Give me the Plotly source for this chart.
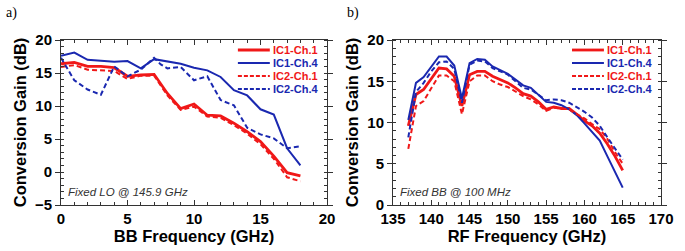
import plotly.graph_objects as go

RED = "#f01818"
BLUE = "#1a28b0"

# ---- Panel a) : Fixed LO @ 145.9 GHz ----
bb_freq = [0, 1, 2, 3, 4, 5, 6, 7, 8, 9, 10, 11, 12, 13, 14, 15, 16, 17, 18]
a_ic1_ch1 = [16.4, 16.6, 16.0, 16.0, 15.8, 14.5, 14.7, 14.8, 11.9, 9.6, 10.3, 8.6, 8.5, 7.4, 6.1, 4.6, 2.4, -0.1, -0.6]
a_ic1_ch4 = [17.6, 18.1, 17.0, 16.9, 16.7, 16.8, 15.7, 17.1, 16.8, 16.4, 15.8, 15.4, 14.4, 12.4, 11.6, 9.5, 8.7, 3.6, 1.0]
a_ic2_ch1 = [15.9, 16.2, 15.5, 15.4, 15.3, 14.1, 14.6, 14.6, 11.6, 9.4, 9.9, 8.4, 8.2, 7.1, 5.8, 4.2, 2.0, -0.8, -1.4]
bb_freq_ic2_ch4 = [0, 1, 2, 3, 4, 5, 6, 7, 7.5, 8, 9, 10, 11, 12, 13, 14, 15, 16, 17, 18]
a_ic2_ch4 = [17.3, 13.9, 12.5, 11.7, 16.0, 14.5, 15.5, 17.3, 16.3, 15.7, 15.9, 13.9, 14.5, 10.9, 10.1, 6.7, 5.7, 5.1, 3.6, 3.9]

# ---- Panel b) : Fixed BB @ 100 MHz ----
rf_freq = list(range(137, 166))
b_ic1_ch1 = [9.6, 13.4, 14.0, 15.3, 16.6, 16.5, 15.6, 12.0, 15.8, 16.2, 16.2, 15.6, 15.2, 14.8, 14.2,
             13.5, 13.2, 12.5, 11.6, 11.9, 11.7, 11.7, 11.0, 10.2, 9.6, 8.7, 7.4, 5.9, 4.2]
b_ic1_ch4 = [10.3, 14.8, 15.5, 16.7, 18.0, 18.0, 16.9, 12.9, 17.2, 17.7, 17.6, 16.8, 16.3, 15.9, 15.2,
             14.5, 14.2, 13.4, 12.5, 12.4, 12.1, 11.6, 10.9, 9.9, 8.9, 7.8, 5.9, 4.0, 2.1]
b_ic2_ch1 = [6.8, 12.0, 12.6, 14.2, 15.7, 15.7, 15.0, 11.0, 15.0, 15.7, 15.7, 15.0, 14.6, 14.3, 13.7,
             13.2, 12.8, 12.2, 11.4, 11.8, 11.7, 11.6, 11.0, 10.5, 9.8, 9.2, 8.0, 6.4, 5.0]
b_ic2_ch4 = [8.2, 13.7, 14.8, 16.2, 17.3, 17.4, 16.5, 12.4, 17.0, 17.5, 17.4, 16.6, 16.2, 15.8, 15.0,
             14.2, 14.0, 13.3, 12.7, 12.8, 12.7, 12.4, 11.9, 11.3, 10.6, 9.6, 8.2, 6.8, 5.5]

names = ["IC1-Ch.1", "IC1-Ch.4", "IC2-Ch.1", "IC2-Ch.4"]
colors = [RED, BLUE, RED, BLUE]
dashes = ["solid", "solid", "5px,3px", "5px,3px"]
widths = [2.8, 2.0, 2.0, 2.0]

fig = go.Figure()

a_x = [bb_freq, bb_freq, bb_freq, bb_freq_ic2_ch4]
a_y = [a_ic1_ch1, a_ic1_ch4, a_ic2_ch1, a_ic2_ch4]
for i in range(4):
    fig.add_trace(go.Scatter(
        x=a_x[i], y=a_y[i], mode="lines", name=names[i], showlegend=False,
        line=dict(color=colors[i], width=widths[i], dash=dashes[i]),
        xaxis="x", yaxis="y"))

b_y = [b_ic1_ch1, b_ic1_ch4, b_ic2_ch1, b_ic2_ch4]
for i in range(4):
    fig.add_trace(go.Scatter(
        x=rf_freq, y=b_y[i], mode="lines", name=names[i], showlegend=False,
        line=dict(color=colors[i], width=widths[i], dash=dashes[i]),
        xaxis="x2", yaxis="y2"))

FONT = "Liberation Sans, Arial, sans-serif"
tickfont = dict(family=FONT, size=15, color="black", weight="bold")
titlefont = dict(family=FONT, size=16.5, color="black", weight="bold")

def axis(domain, rng, title, anchor, standoff, major_dir):
    return dict(
        domain=domain, range=rng, dtick=5, anchor=anchor, automargin=False,
        showgrid=False, zeroline=False, showline=True, linecolor="#333", linewidth=1,
        mirror="allticks", ticks=major_dir, ticklen=5, tickcolor="#333", tickwidth=1,
        minor=dict(dtick=1, ticks="inside", ticklen=3, tickcolor="#333", tickwidth=1),
        tickfont=tickfont,
        title=dict(text=title, font=titlefont, standoff=standoff),
    )

xd1 = [61/685, 327/685]
xd2 = [393/685, 661/685]
yd = [(251-205)/251, (251-40)/251]

fig.update_layout(
    width=685, height=251,
    margin=dict(l=0, r=0, t=0, b=0),
    paper_bgcolor="white", plot_bgcolor="white",
    showlegend=False,
    xaxis=axis(xd1, [0, 20], "BB Frequency (GHz)", "y", 3, "inside"),
    yaxis=axis(yd, [-5, 20], "Conversion Gain (dB)", "x", 4, "outside"),
    xaxis2=axis(xd2, [135, 170], "RF Frequency (GHz)", "y2", 3, "inside"),
    yaxis2=axis(yd, [0, 20], "Conversion Gain (dB)", "x2", 4, "outside"),
)

# manual legends (inside top-right of each panel), rows 13 px apart
row_px = [50, 63, 76, 89]
plot_h = 165.0
for xr, yr, x0, x1 in [("x domain", "y domain", 0.665, 0.785), ("x2 domain", "y2 domain", 0.668, 0.787)]:
    for i in range(4):
        yy = (205 - row_px[i]) / plot_h
        fig.add_shape(type="line", xref=xr, yref=yr, x0=x0, x1=x1, y0=yy, y1=yy,
                      line=dict(color=colors[i], width=widths[i] if i == 0 else 2,
                                dash="solid" if i < 2 else "4px,2px"))
        fig.add_annotation(text=names[i], xref=xr, yref=yr, x=x1 + 0.005, y=yy,
                           xanchor="left", yanchor="middle", showarrow=False,
                           font=dict(family=FONT, size=11, color=colors[i], weight="bold"))

ann_font = dict(family=FONT, size=11.5, color="#333", style="italic")
fig.add_annotation(text="Fixed LO @ 145.9 GHz", xref="x domain", yref="y domain",
                   x=0.018, y=0.03, xanchor="left", yanchor="bottom", showarrow=False, font=ann_font)
fig.add_annotation(text="Fixed BB @ 100 MHz", xref="x2 domain", yref="y2 domain",
                   x=0.02, y=0.03, xanchor="left", yanchor="bottom", showarrow=False, font=ann_font)

lab_font = dict(family="Liberation Serif, Times New Roman, serif", size=14, color="black")
fig.add_annotation(text="a)", xref="paper", yref="paper", x=4/685, y=1 - 3/251,
                   xanchor="left", yanchor="top", showarrow=False, font=lab_font)
fig.add_annotation(text="b)", xref="paper", yref="paper", x=345/685, y=1 - 3/251,
                   xanchor="left", yanchor="top", showarrow=False, font=lab_font)

fig.write_html("out.html", config={"displayModeBar": False, "staticPlot": True},
               post_script="document.body.style.margin='0px';document.body.style.overflow='hidden';")
